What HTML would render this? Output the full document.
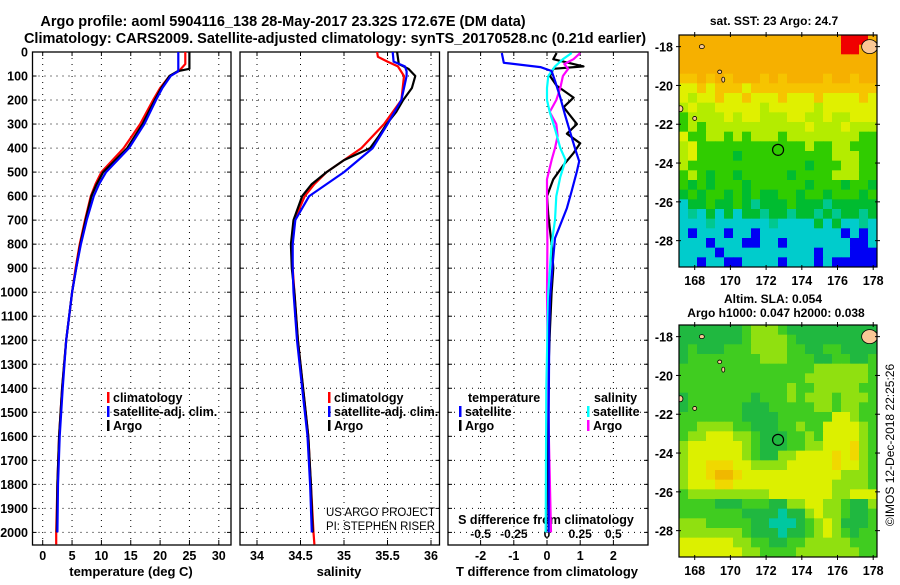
<!DOCTYPE html>
<html><head><meta charset="utf-8"><style>
html,body{margin:0;padding:0;background:#fff;}
body{width:900px;height:580px;overflow:hidden;font-family:"Liberation Sans",Arial,sans-serif;}
svg text{font-family:"Liberation Sans",Arial,sans-serif;font-weight:bold;}
</style></head><body>
<svg id="chart" width="900" height="580" xmlns="http://www.w3.org/2000/svg">
<text x="283" y="26" font-size="14.5" text-anchor="middle">Argo profile: aoml 5904116_138 28-May-2017 23.32S 172.67E (DM data)</text>
<text x="335" y="43" font-size="14.5" text-anchor="middle">Climatology: CARS2009. Satellite-adjusted climatology: synTS_20170528.nc (0.21d earlier)</text>
</svg>
<script>
// ---------- data ----------
const depthTicks = [0,100,200,300,400,500,600,700,800,900,1000,1100,1200,1300,1400,1500,1600,1700,1800,1900,2000];
const tempTicks = [0,5,10,15,20,25,30];
const salTicks = [34,34.5,35,35.5,36];
const salTickLabels = ["34","34.5","35","35.5","36"];
const tdiffTicks = [-2,-1,0,1,2];
const sdiffTicks = [-0.5,-0.25,0,0.25,0.5];
const sdiffTickLabels = ["-0.5","-0.25","0","0.25","0.5"];

const argoDepth = [0,70,80,100,150,200,300,400,500,550,600,700,800,900,1000,1200,1400,1600,1800,2000];
const argoTemp  = [25.0,25.0,23.0,21.6,20.2,19.1,17.0,14.4,10.3,9.2,8.3,7.3,6.4,5.7,5.0,4.0,3.3,2.8,2.5,2.4];
const climDepth = [0,50,80,100,150,200,300,400,500,550,600,700,800,900,1000,1200,1400,1600,1800,2000,2050];
const climTemp  = [24.3,24.3,23.2,21.6,20.0,18.8,16.6,13.8,10.0,9.0,8.2,7.2,6.3,5.6,5.0,4.0,3.3,2.8,2.5,2.3,2.3];
const satDepth  = [0,80,100,150,200,300,400,500,550,600,700,800,900,1000,1200,1400,1600,1800,2000];
const satTemp   = [23.1,23.1,21.8,20.4,19.3,17.3,14.7,10.8,9.6,8.7,7.5,6.5,5.7,5.0,4.0,3.4,2.9,2.6,2.5];

const argoSalD = [0,50,70,100,150,200,250,300,350,400,450,500,550,600,700,800,900,1000,1200,1400,1600,1800,2000];
const argoSal  = [35.61,35.63,35.74,35.82,35.78,35.68,35.6,35.49,35.4,35.3,35.0,34.8,34.63,34.52,34.42,34.39,34.4,34.43,34.47,34.53,34.59,34.62,34.64];
const climSalD = [0,20,40,60,100,200,300,400,450,500,550,600,700,800,900,1000,1200,1400,1600,1800,2000,2050];
const climSal  = [35.38,35.39,35.5,35.62,35.69,35.66,35.46,35.2,35.0,34.8,34.66,34.55,34.43,34.4,34.41,34.43,34.47,34.53,34.59,34.62,34.65,34.66];
const satSalD  = [0,40,60,80,100,200,300,400,500,600,700,800,900,1000,1200,1400,1600,1800,2000];
const satSal   = [35.56,35.57,35.7,35.72,35.72,35.66,35.5,35.33,35.0,34.6,34.44,34.41,34.41,34.42,34.46,34.52,34.58,34.61,34.63];

const tdiffSatD = [4,45,63,79,120,190,260,330,400,455,497,580,650,720,775,886,1025,1136,1500,2000];
const tdiffSat  = [-1.36,-1.3,-0.2,0.14,0.24,0.4,0.54,0.69,0.84,0.97,0.9,0.74,0.6,0.4,0.24,0.17,0.09,0.07,0.05,0.05];
const tdiffArgoD = [4,30,60,70,100,140,190,230,300,340,380,420,470,530,600,680,800,900,1000,1150,1400,1700,2000];
const tdiffArgo  = [0.29,0.19,1.1,0.19,0.09,0.29,0.8,0.5,0.9,0.6,1.0,0.8,0.5,0.19,0.0,0.04,0.14,0.19,0.14,0.09,0.02,0.0,-0.03];
const sdiffSatD = [4,30,60,100,150,200,250,320,400,450,520,600,700,800,1000,1400,2000];
const sdiffSat  = [0.186,0.12,0.06,0.01,0.0,0.0,0.02,0.06,0.1,0.14,0.1,0.07,0.06,0.035,0.01,-0.005,-0.01];
const sdiffArgoD = [4,30,50,70,100,150,200,250,300,350,400,450,530,600,800,1000,1500,2000];
const sdiffArgo  = [0.25,0.2,0.13,0.16,0.12,0.1,0.07,0.02,0.07,0.08,0.06,0.035,0.0,0.0,0.003,0.0,0.01,0.03];

// map grids (colour class codes per cell, north row first)
const sstRows = [
"oooooooooooooooooorrro","oooooooooooooooooorroo","oooooooooooooooooooooo","oooooooooooooooooooooo",
"ppopopooopopoooopoopoo","yypypppypppppppppppppp","ylyypyypyyypyyypyyyypy","lyllyyyyylyyyyylyyyyyy",
"gllllylyylllyyllyllyyy","glglllllllllllylllylll","yggllglglllgllllllllgg","lygggggggggggglggllggg",
"lyggggmgggggggggglllgg","lgggggggggggggmgggllgg","glgmggmgggggmgggglllgg","gmgmgggmggggggmgggmggm",
"mgmggmgmgmmggmggmgggmg","cmmgmmgmtmmmgmmmtmmmmm","ctcmcmcmmtmmtmmtmtmmtm","ccctcccccctccccmcmcctc",
"cbcccbccbcccccccccbcbc","cccbcccbbccbcccccccbbc","ccccbccccccccccbcccbbb","ccbccbbccccbcccbcbbbbb"];
const slaRows = [
"GGGGGGGglllgGGGGGGGGGG","GGGGGGGgllllgGGGGGGGGG","GgGGGgggllllggGGggGGGG","GgggggggglllgggGGggGGg",
"gggggggggggggggllllllg","gggggggggggggglllllllg","gggggggggggglgglllllgg","GgggggggGggglglllglllg",
"GggggggGGGgggggllgllgg","gggggggGGGGggggggyylgg","ggllllggGGGgglggyyyylg","gllyyyllgGGGgglgyyyylg",
"lyyyyyylgGGGggllyyyolg","lyyyyyylgGGllyyyyoyolg","lyyoooyyllllyyyyyoyylg","lyyoOOoyyyyyyyyyyylllg",
"lyyyooyyyyyyyyyyyllllg","glllllllllyyyyyyyllyyy","ggggGGGgggGGllyyllgGGl","gggggggGGGGtGGlyllgGGg",
"lllgggggGGtttGglylGGGg","lllllllgGGGtGGglylgGgg","yyyyyyllggGGgglllllggg","yyyyyyyllgggglllllllgg"];
const lonTicks = [168,170,172,174,176,178];
const latTicks = [-18,-20,-22,-24,-26,-28];
const argoLon = 172.67, argoLat = -23.32;

// ---------- helpers ----------
const NS = "http://www.w3.org/2000/svg";
const svg = document.getElementById('chart');
function mk(tag, attrs, parent){const e=document.createElementNS(NS,tag);for(const k in attrs)e.setAttribute(k,attrs[k]);(parent||svg).appendChild(e);return e;}
const Y0=52, PXPER100=24.02;
function yD(d){return Y0 + d*PXPER100/100;}
const panels = [
 {x0:32.5,x1:231,fx:v=>42.7+v*5.87,name:'temperature-panel'},
 {x0:240,x1:439.5,fx:v=>257+(v-34)*87,name:'salinity-panel'},
 {x0:448,x1:648,fx:v=>547+v*33.2,name:'difference-panel'}];
const fxS = v=>547+v*132.7;
const BOT=545;

panels.forEach((p,pi)=>{
  const g=mk('g',{});
  
  
  depthTicks.forEach(d=>{
    if(d===0)return;
    const l=mk('line',{x1:p.x0,x2:p.x1,y1:yD(d),y2:yD(d),stroke:'#000','stroke-width':1,'stroke-dasharray':'1,5'},g);
    
    
    mk('line',{x1:p.x0,x2:p.x0+4,y1:yD(d),y2:yD(d),stroke:'#000'},g);
    mk('line',{x1:p.x1-4,x2:p.x1,y1:yD(d),y2:yD(d),stroke:'#000'},g);
  });
  const ticks = pi===0?tempTicks:pi===1?salTicks:tdiffTicks;
  ticks.forEach((t,i)=>{
    const x=p.fx(t);
    const l=mk('line',{x1:x,x2:x,y1:Y0,y2:BOT,stroke:'#000','stroke-dasharray':'1,5'},g);
    
    
    mk('line',{x1:x,x2:x,y1:BOT-5,y2:BOT,stroke:'#000'},g);
    mk('line',{x1:x,x2:x,y1:Y0,y2:Y0+4,stroke:'#000'},g);
    const lab = pi===1?salTickLabels[i]:String(t);
    const tx=mk('text',{x:x,y:560,'font-size':12.5,'text-anchor':'middle'},g);
    tx.textContent=lab;
    
    
  });
  const r=mk('rect',{x:p.x0,y:Y0,width:p.x1-p.x0,height:BOT-Y0,fill:'none',stroke:'#000','stroke-width':1.3},g);
  
  
});
depthTicks.forEach(d=>{
  const t=mk('text',{x:28,y:yD(d)+4.5,'font-size':12.5,'text-anchor':'end'});
  t.textContent=d;
  
  
});
[[131,'temperature (deg C)','temperature-axis-title'],[339,'salinity','salinity-axis-title'],[547,'T difference from climatology','tdiff-axis-title']].forEach(a=>{
  const t=mk('text',{x:a[0],y:576,'font-size':13,'text-anchor':'middle'});
  t.textContent=a[1];
  
  
});
sdiffTicks.forEach((s,i)=>{
  const t=mk('text',{x:fxS(s),y:538,'font-size':12,'text-anchor':'middle'});
  t.textContent=sdiffTickLabels[i];
  
  
});
{const t=mk('text',{x:546,y:524,'font-size':12.5,'text-anchor':'middle'});t.textContent='S difference from climatology';

}

function stepLine(ds,vs,fx,color,name,w){
  let pts=[];
  for(let i=0;i<ds.length;i++){pts.push(fx(vs[i]).toFixed(1)+','+yD(ds[i]).toFixed(1));}
  const pl=mk('polyline',{points:pts.join(' '),fill:'none',stroke:color,'stroke-width':w||2.2,'stroke-linejoin':'round'});
  
  
}
const fT=panels[0].fx, fS=panels[1].fx, fTd=panels[2].fx;
stepLine(climDepth,climTemp,fT,'#f00','climatology-temp-line');
stepLine(argoDepth,argoTemp,fT,'#000','argo-temp-line');
stepLine(satDepth,satTemp,fT,'#00f','satellite-temp-line');
stepLine(climSalD,climSal,fS,'#f00','climatology-salinity-line');
stepLine(argoSalD,argoSal,fS,'#000','argo-salinity-line');
stepLine(satSalD,satSal,fS,'#00f','satellite-salinity-line');
stepLine(tdiffArgoD,tdiffArgo,fTd,'#000','argo-tdiff-line');
stepLine(sdiffArgoD,sdiffArgo,fxS,'#f0f','argo-sdiff-line');
stepLine(sdiffSatD,sdiffSat,fxS,'#0ff','satellite-sdiff-line');
stepLine(tdiffSatD,tdiffSat,fTd,'#00f','satellite-tdiff-line');

function legend(x,y,items,name){
  const g=mk('g',{});
  
  
  items.forEach((it,i)=>{
    const yy=y+i*14;
    if(it[1]) mk('rect',{x:x,y:yy-10,width:2.5,height:11,fill:it[1]},g);
    const t=mk('text',{x:x+(it[1]?6:0),y:yy,'font-size':12.5},g);
    t.textContent=it[0];
    
    
  });
}
legend(107,402,[['climatology','#f00'],['satellite-adj. clim.','#00f'],['Argo','#000']],'temp-legend');
legend(328,402,[['climatology','#f00'],['satellite-adj. clim.','#00f'],['Argo','#000']],'salinity-legend');
legend(468,402,[['temperature',null]],'tdiff-legend-title');
legend(459,416,[['satellite','#00f'],['Argo','#000']],'tdiff-legend');
legend(594,402,[['salinity',null]],'sdiff-legend-title');
legend(587,416,[['satellite','#0ff'],['Argo','#f0f']],'sdiff-legend');
[['US ARGO PROJECT',516,'project-credit'],['PI: STEPHEN RISER',530,'pi-credit']].forEach(a=>{
  const t=mk('text',{x:326,y:a[1],'font-size':11.5,'textLength':109,'lengthAdjust':'spacingAndGlyphs'});
  t.style.fontWeight='normal';t.textContent=a[0];
  
  
});

// ---------- maps ----------
const sstCol={o:'#f6b000',p:'#f6c400',r:'#f00000',y:'#e0f000',l:'#b4ec00',g:'#30cc00',m:'#00bc30',t:'#00c890',c:'#00cccc',b:'#0000f4'};
const slaCol={G:'#20b840',g:'#40cc20',l:'#90e010',y:'#dcf000',o:'#f0d800',O:'#f0b800',t:'#00c8a0'};
function drawMap(top,rows,cols,name){
  const MX0=679,MX1=877,MY1=top+232;
  const lonX=lon=>MX0+(lon-167.12)*17.85;
  const latY=lat=>top+(-17.4-lat)*19.4;
  const g=mk('g',{});
  
  
  const nc=rows[0].length, nr=rows.length, cw=(MX1-MX0)/nc, ch=232/nr;
  rows.forEach((row,j)=>{for(let i=0;i<nc;i++){
    const c=mk('rect',{x:(MX0+i*cw).toFixed(2),y:(top+j*ch).toFixed(2),width:(cw+0.4).toFixed(2),height:(ch+0.4).toFixed(2),fill:cols[row[i]]||'#40cc20'},g);
    
    
  }});
  const land=[[177.8,-18.0,8,7],[168.4,-18.0,2.5,2],[169.4,-19.3,2,1.8],[169.6,-19.7,1.5,2.5],[167.2,-21.2,2.5,3],[168.0,-21.7,2,2]];
  land.forEach(l=>{const e=mk('ellipse',{cx:lonX(l[0]),cy:latY(l[1]),rx:l[2],ry:l[3],fill:'#fac896',stroke:'#000','stroke-width':0.8},g);
    
    });
  const cl=mk('clipPath',{id:'clip'+top},g);mk('rect',{x:MX0,y:top,width:MX1-MX0,height:232},cl);
  g.querySelectorAll('ellipse').forEach(e=>e.setAttribute('clip-path','url(#clip'+top+')'));
  const c=mk('circle',{cx:lonX(argoLon),cy:latY(argoLat),r:5.5,fill:'none',stroke:'#000','stroke-width':1.2},g);
  
  
  mk('rect',{x:MX0,y:top,width:MX1-MX0,height:232,fill:'none',stroke:'#000','stroke-width':1.2},g);
  lonTicks.forEach(lo=>{const x=lonX(lo);
    mk('line',{x1:x,x2:x,y1:top-3,y2:top+2,stroke:'#000'},g);
    mk('line',{x1:x,x2:x,y1:MY1-2,y2:MY1+3,stroke:'#000'},g);
    const t=mk('text',{x:x,y:MY1+18,'font-size':12.5,'text-anchor':'middle'},g);t.textContent=lo;
    
    });
  latTicks.forEach(la=>{const y=latY(la);
    mk('line',{x1:MX0-3,x2:MX0+2,y1:y,y2:y,stroke:'#000'},g);
    mk('line',{x1:MX1-2,x2:MX1+3,y1:y,y2:y,stroke:'#000'},g);
    const t=mk('text',{x:673,y:y+5,'font-size':12.5,'text-anchor':'end'},g);t.textContent=la;
    
    });
}
drawMap(35,sstRows,sstCol,'sst-map');
drawMap(325,slaRows,slaCol,'sla-map');
[['sat. SST: 23 Argo: 24.7',774,25,'sst-map-title'],['Altim. SLA: 0.054',773,303,'sla-map-title'],['Argo h1000: 0.047 h2000: 0.038',776,317,'argo-height-title']].forEach(a=>{
  const t=mk('text',{x:a[1],y:a[2],'font-size':12,'text-anchor':'middle'});t.textContent=a[0];
  
  });
{const t=mk('text',{x:0,y:0,'font-size':12,'text-anchor':'middle',transform:'translate(894,445) rotate(-90)'});
t.style.fontWeight='normal';t.textContent='©IMOS 12-Dec-2018 22:25:26';

}
</script>
</body></html>
